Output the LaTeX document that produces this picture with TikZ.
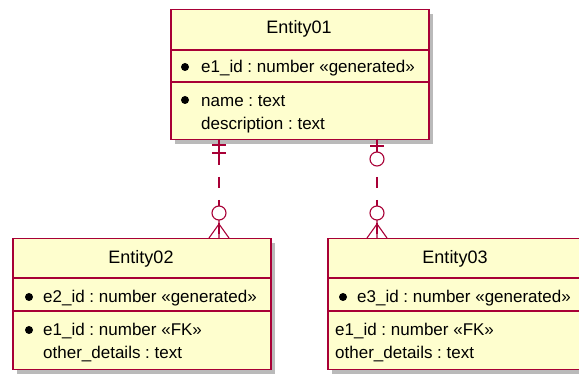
\documentclass[tikz,border=0pt]{standalone}
\usepackage{fontspec}
\setmainfont{Liberation Sans}
\usepackage{xcolor}
\usetikzlibrary{positioning}
\usetikzlibrary{shadows}
\definecolor{erdred}{HTML}{A80036}
\definecolor{erdfill}{HTML}{FEFECE}
\frenchspacing
\tikzset{
  entbox/.style={draw=erdred, fill=erdfill, line width=1.5pt, anchor=north west, inner sep=0pt,
    drop shadow={shadow xshift=4pt, shadow yshift=-4pt, fill=black!60, opacity=0.45}},
  entsep/.style={draw=erdred, line width=1.2pt},
  rowtext/.style={anchor=west, inner sep=0pt, font=\fontsize{17}{20}\selectfont},
  titletext/.style={inner sep=0pt, font=\fontsize{18}{21}\selectfont},
  keydot/.style={fill=black, draw=none, circle, minimum size=8pt, inner sep=0pt},
  relline/.style={draw=erdred, line width=1.1pt},
  reldash/.style={relline, dash pattern=on 11pt off 12pt, dash phase=11pt},
  relring/.style={relline, fill=white, circle, minimum size=14pt, inner sep=0pt}
}
\begin{document}
\begin{tikzpicture}[x=1pt, y=-1pt]
        \useasboundingbox (0,0) rectangle (579,374);
        \clip (0,0) rectangle (579,374);
        \node[entbox, minimum width=258pt, minimum height=130pt] (ent1) at (170,9) {};
        \node[entbox, minimum width=258pt, minimum height=131pt] (ent2) at (12,238) {};
        \node[entbox, minimum width=256pt, minimum height=131pt] (ent3) at (327,238) {};
        \draw[entsep] (ent1.west |- 0,50) -- (ent1.east |- 0,50);
        \draw[entsep] (ent1.west |- 0,82) -- (ent1.east |- 0,82);
        \draw[entsep] (ent2.west |- 0,278) -- (ent2.east |- 0,278);
        \draw[entsep] (ent2.west |- 0,311) -- (ent2.east |- 0,311);
        \draw[entsep] (ent3.west |- 0,278) -- (ent3.east |- 0,278);
        \draw[entsep] (ent3.west |- 0,311) -- (ent3.east |- 0,311);
        \node[titletext] (t1) at (299,29) {Entity01};
        \node[keydot] (k11) at (185,67) {};
        \node[rowtext] (r11) at (201,68) {e1\_id : number «generated»};
        \node[keydot] (k12) at (185,100) {};
        \node[rowtext] (r12) at (201,101) {name : text};
        \node[rowtext] (r13) at (201,125) {description : text};
        \node[titletext] (t2) at (141,259) {Entity02};
        \node[keydot] (k21) at (29,297) {};
        \node[rowtext] (r21) at (43,298) {e2\_id : number «generated»};
        \node[keydot] (k22) at (29,330) {};
        \node[rowtext] (r22) at (43,331) {e1\_id : number «FK»};
        \node[rowtext] (r23) at (43,354) {other\_details : text};
        \node[titletext] (t3) at (455,259) {Entity03};
        \node[keydot] (k31) at (343,297) {};
        \node[rowtext] (r31) at (357,298) {e3\_id : number «generated»};
        \node[rowtext] (r32) at (335,331) {e1\_id : number «FK»};
        \node[rowtext] (r33) at (335,354) {other\_details : text};
        % Entity01 -- Entity02
        \coordinate (a1) at (219,139);
        \coordinate (a2) at (219,165);
        \coordinate (a3) at (219,238);
        \draw[relline] (a1) -- (a2);
        \draw[reldash] (a2) -- (a3);
        \draw[relline] (212,145) -- (226,145);
        \draw[relline] (212,153) -- (226,153);
        \draw[relline] (219,224) -- (209,238) (219,224) -- (229,238) (219,220) -- (a3);
        \node[relring] (c1) at (219,213) {};
        % Entity01 -- Entity03
        \coordinate (b1) at (377,139);
        \coordinate (b2) at (377,165);
        \coordinate (b3) at (377,238);
        \draw[relline] (b1) -- (b2);
        \draw[reldash] (b2) -- (b3);
        \draw[relline] (370,146) -- (384,146);
        \node[relring] (c2) at (377,159) {};
        \draw[relline] (377,224) -- (367,238) (377,224) -- (387,238) (377,220) -- (b3);
        \node[relring] (c3) at (377,213) {};
\end{tikzpicture}
\end{document}
